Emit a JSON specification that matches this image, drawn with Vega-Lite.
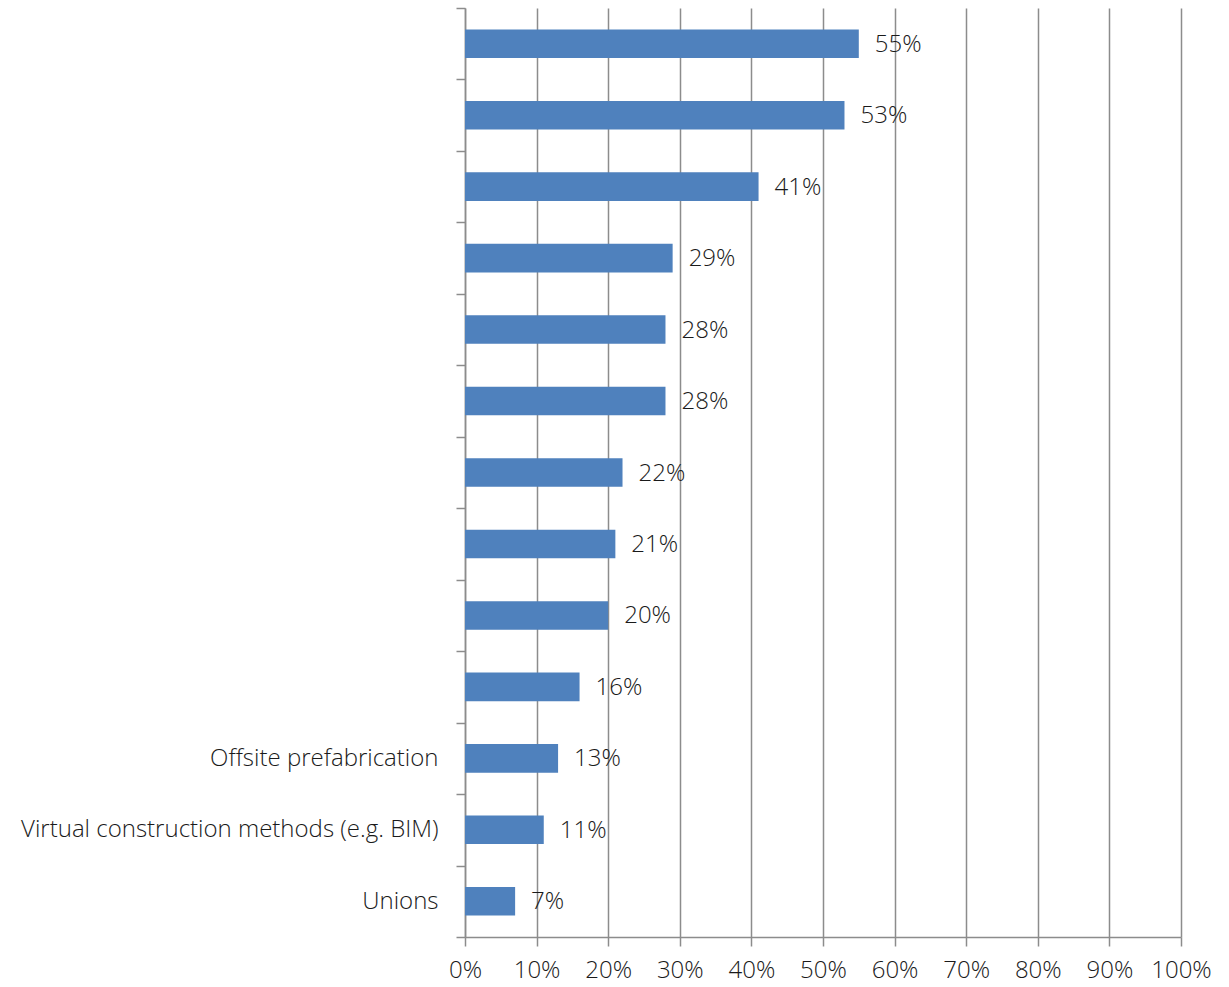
{
  "$schema": "https://vega.github.io/schema/vega-lite/v6.json",
  "autosize": "none",
  "padding": {"left": 465, "top": 8, "right": 48, "bottom": 50},
  "width": 716,
  "height": 929,
  "data": {
    "values": [
      {"item": " ", "share": 0.55},
      {"item": "  ", "share": 0.53},
      {"item": "   ", "share": 0.41},
      {"item": "    ", "share": 0.29},
      {"item": "     ", "share": 0.28},
      {"item": "      ", "share": 0.28},
      {"item": "       ", "share": 0.22},
      {"item": "        ", "share": 0.21},
      {"item": "         ", "share": 0.20},
      {"item": "          ", "share": 0.16},
      {"item": "Offsite prefabrication", "share": 0.13},
      {"item": "Virtual construction methods (e.g. BIM)", "share": 0.11},
      {"item": "Unions", "share": 0.07}
    ]
  },
  "encoding": {
    "y": {
      "field": "item",
      "type": "nominal",
      "sort": null,
      "scale": {"paddingInner": 0, "paddingOuter": 0},
      "axis": {
        "title": null,
        "tickBand": "extent",
        "tickSize": 9,
        "labelPadding": 18,
        "labelLimit": 0,
        "grid": false
      }
    },
    "x": {
      "field": "share",
      "type": "quantitative",
      "scale": {"domain": [0, 1], "nice": false},
      "axis": {
        "title": null,
        "format": ".0%",
        "values": [0, 0.1, 0.2, 0.3, 0.4, 0.5, 0.6, 0.7, 0.8, 0.9, 1],
        "grid": true,
        "tickSize": 9,
        "labelPadding": 12,
        "labelOverlap": false,
        "labelFlush": false
      }
    }
  },
  "layer": [
    {
      "mark": {"type": "bar", "color": "#4F81BD", "height": {"band": 0.4}}
    },
    {
      "mark": {"type": "text", "align": "left", "baseline": "middle", "dx": 16, "dy": 1, "color": "#1A1A1A"},
      "encoding": {
        "text": {"field": "share", "type": "quantitative", "format": ".0%"}
      }
    }
  ],
  "config": {
    "view": {"stroke": null},
    "font": "Open Sans",
    "axis": {
      "domainColor": "#8C8C8C",
      "domainWidth": 1.5,
      "tickColor": "#8C8C8C",
      "tickWidth": 1.5,
      "gridColor": "#8C8C8C",
      "gridWidth": 1.5,
      "labelFont": "Open Sans",
      "labelFontWeight": 300,
      "labelFontSize": 24,
      "labelColor": "#1A1A1A"
    },
    "text": {"font": "Open Sans", "fontWeight": 300, "fontSize": 24}
  }
}
